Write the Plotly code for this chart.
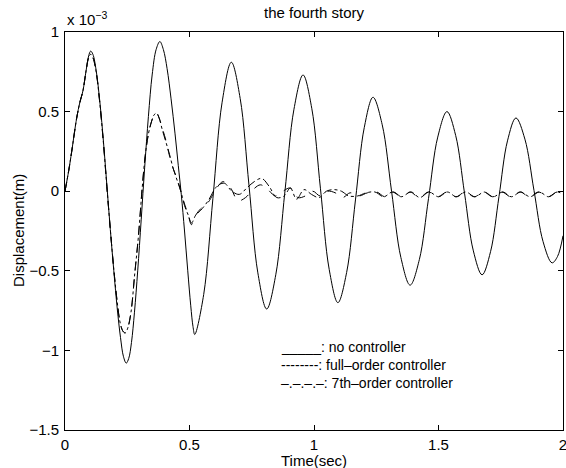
import plotly.graph_objects as go

# Values in units of 1e-3 m (axis shows "x 10^-3")
t_none = [0, 0.015, 0.027, 0.047, 0.060, 0.072, 0.085, 0.095, 0.103, 0.112, 0.125, 0.140,
          0.155, 0.168, 0.182, 0.196, 0.210, 0.223, 0.235, 0.246, 0.256, 0.267, 0.279, 0.292,
          0.306, 0.320, 0.335, 0.350, 0.366, 0.381, 0.395, 0.410, 0.426, 0.442, 0.455, 0.467,
          0.480, 0.493, 0.505, 0.514, 0.521,
          0.557, 0.594, 0.631, 0.668, 0.7035, 0.739, 0.7745, 0.810, 0.8465, 0.883, 0.9195, 0.956,
          0.991, 1.026, 1.061, 1.096, 1.131, 1.1665, 1.202, 1.237, 1.274, 1.3115, 1.349, 1.386,
          1.423, 1.460, 1.497, 1.534, 1.569, 1.6045, 1.640, 1.675, 1.709, 1.743, 1.777, 1.811,
          1.847, 1.8835, 1.920, 1.956, 1.978, 2.0]
v_none = [0, 0.13, 0.25, 0.46, 0.56, 0.63, 0.76, 0.85, 0.88, 0.86, 0.76, 0.56,
          0.30, 0.04, -0.24, -0.50, -0.74, -0.92, -1.04, -1.08, -1.05, -0.95, -0.76, -0.50,
          -0.18, 0.15, 0.47, 0.73, 0.89, 0.94, 0.89, 0.77, 0.58, 0.36, 0.16, -0.02,
          -0.25, -0.50, -0.72, -0.85, -0.90,
          -0.649, -0.045, 0.559, 0.81, 0.583, 0.035, -0.513, -0.74, -0.525, -0.005, 0.515, 0.73,
          0.521, 0.015, -0.491, -0.70, -0.511, -0.055, 0.401, 0.59, 0.417, 0.0, -0.417, -0.59,
          -0.43, -0.045, 0.34, 0.50, 0.35, -0.0125, -0.375, -0.525, -0.38, -0.0325, 0.316, 0.46,
          0.327, 0.005, -0.317, -0.45, -0.41, -0.28]

t_full = [0, 0.015, 0.027, 0.047, 0.060, 0.072, 0.085, 0.095, 0.103, 0.112, 0.125, 0.140,
          0.155, 0.168, 0.182, 0.196, 0.210, 0.222, 0.233, 0.242, 0.252, 0.265, 0.280, 0.295,
          0.310, 0.322, 0.335, 0.348, 0.358, 0.368, 0.378, 0.390, 0.405, 0.420, 0.435, 0.450,
          0.465, 0.480, 0.495, 0.508,
          0.525, 0.545, 0.575, 0.605, 0.635, 0.665, 0.695, 0.725, 0.755, 0.785, 0.815, 0.845,
          0.875, 0.905, 0.935, 0.965, 0.995, 1.025, 1.055, 1.085, 1.115, 1.145, 1.180, 1.215,
          1.252, 1.285, 1.319, 1.352, 1.386, 1.423, 1.460, 1.497, 1.534, 1.570, 1.607, 1.644,
          1.681, 1.718, 1.755, 1.790, 1.828, 1.865, 1.902, 1.940, 1.976, 2.0]
v_full = [0, 0.13, 0.25, 0.46, 0.56, 0.63, 0.76, 0.84, 0.86, 0.84, 0.75, 0.55,
          0.29, 0.03, -0.24, -0.49, -0.70, -0.83, -0.88, -0.89, -0.86, -0.76, -0.52, -0.28,
          0.02, 0.22, 0.36, 0.44, 0.48, 0.49, 0.46, 0.40, 0.32, 0.22, 0.14, 0.08,
          0.00, -0.08, -0.15, -0.21,
          -0.15, -0.11, -0.07, 0.01, 0.06, 0.02, -0.06, -0.04, 0.01, 0.04, 0.01, -0.03,
          0.00, 0.02, -0.04, -0.03, 0.00, -0.03, 0.00, -0.01, -0.04, -0.01, -0.03, -0.01,
          -0.005, -0.035, -0.005, -0.035, -0.005, -0.04, -0.005, -0.035, -0.005, -0.035, -0.005, -0.035,
          -0.005, -0.035, -0.005, -0.035, -0.005, -0.035, -0.005, -0.035, -0.005, -0.02]

t_7th = [0, 0.015, 0.027, 0.047, 0.060, 0.072, 0.085, 0.095, 0.103, 0.112, 0.125, 0.140,
         0.155, 0.168, 0.182, 0.196, 0.210, 0.222, 0.233, 0.242, 0.252, 0.265, 0.280, 0.295,
         0.310, 0.322, 0.335, 0.348, 0.358, 0.368, 0.378, 0.390, 0.405, 0.420, 0.435, 0.450,
         0.465, 0.480, 0.495, 0.508,
         0.525, 0.545, 0.575, 0.610, 0.640, 0.670, 0.700, 0.730, 0.760, 0.790, 0.820, 0.850,
         0.880, 0.905, 0.930, 0.960, 0.990, 1.020, 1.050, 1.080, 1.110, 1.140, 1.175, 1.210,
         1.245, 1.280, 1.315, 1.350, 1.390, 1.425, 1.462, 1.500, 1.536, 1.572, 1.610, 1.646,
         1.684, 1.720, 1.758, 1.793, 1.830, 1.868, 1.905, 1.942, 1.978, 2.0]
v_7th = [0, 0.13, 0.25, 0.46, 0.56, 0.63, 0.76, 0.84, 0.86, 0.84, 0.75, 0.55,
         0.29, 0.03, -0.24, -0.49, -0.70, -0.83, -0.88, -0.89, -0.86, -0.76, -0.52, -0.28,
         0.02, 0.22, 0.36, 0.44, 0.48, 0.49, 0.46, 0.39, 0.31, 0.23, 0.14, 0.07,
         0.00, -0.09, -0.15, -0.20,
         -0.15, -0.12, -0.06, 0.03, 0.05, 0.00, -0.02, 0.02, 0.06, 0.08, 0.03, -0.04,
         -0.03, 0.02, -0.05, 0.01, -0.02, -0.04, 0.00, 0.01, 0.00, -0.03, -0.03, -0.01,
         -0.005, -0.035, -0.005, -0.035, -0.005, -0.04, -0.005, -0.035, -0.005, -0.035, -0.005, -0.035,
         -0.005, -0.035, -0.005, -0.035, -0.005, -0.035, -0.005, -0.035, -0.005, -0.02]

x_ticks = [0, 0.5, 1, 1.5, 2]
x_labels = ["0", "0.5", "1", "1.5", "2"]
y_ticks = [-1.5, -1, -0.5, 0, 0.5, 1]
y_labels = ["\u22121.5", "\u22121", "\u22120.5", "0", "0.5", "1"]
legend_lines = ["_____: no controller",
                "--------: full\u2013order controller",
                "\u2013.\u2013.\u2013.\u2013: 7th\u2013order controller"]

FONT = "Liberation Sans, Arial, Helvetica, sans-serif"

fig = go.Figure()
fig.add_trace(go.Scatter(x=t_none, y=v_none, mode="lines", line=dict(color="black", width=1, shape="spline"),
                         name="no controller"))
fig.add_trace(go.Scatter(x=t_full, y=v_full, mode="lines",
                         line=dict(color="black", width=1, dash="dash", shape="spline"),
                         name="full-order controller"))
fig.add_trace(go.Scatter(x=t_7th, y=v_7th, mode="lines",
                         line=dict(color="black", width=1, dash="dashdot", shape="spline"),
                         name="7th-order controller"))

axis_common = dict(showline=True, linecolor="black", linewidth=1, mirror="ticks",
                   ticks="inside", ticklen=5, tickcolor="black", showgrid=False, zeroline=False,
                   automargin=False, ticklabeloverflow="allow",
                   tickfont=dict(family=FONT, size=15, color="black"))

fig.update_layout(
    width=566, height=468,
    margin=dict(l=65, r=3, t=32, b=38, autoexpand=False),
    paper_bgcolor="white", plot_bgcolor="white",
    showlegend=False,
    font=dict(family=FONT, size=14, color="black"),
    xaxis=dict(range=[0, 2], tickvals=x_ticks, ticktext=x_labels, ticklabelstandoff=1, **axis_common),
    yaxis=dict(range=[-1.5, 1], tickvals=y_ticks, ticktext=y_labels, ticklabelstandoff=2, **axis_common),
)

# title and axis labels
fig.add_annotation(text="the fourth story", xref="paper", yref="paper", x=0.5, y=1, yshift=20,
                   xanchor="center", yanchor="middle", showarrow=False,
                   font=dict(family=FONT, size=15, color="black"))
fig.add_annotation(text="Time(sec)", xref="paper", yref="paper", x=0.5, y=0, yshift=-30,
                   xanchor="center", yanchor="middle", showarrow=False,
                   font=dict(family=FONT, size=15, color="black"))
fig.add_annotation(text="Displacement(m)", xref="paper", yref="paper", x=0, y=0.5, xshift=-47,
                   xanchor="center", yanchor="middle", showarrow=False, textangle=-90,
                   font=dict(family=FONT, size=15, color="black"))
fig.add_annotation(text="x 10<sup>\u22123</sup>", xref="paper", yref="paper", x=0, y=1, yshift=2,
                   xanchor="left", yanchor="bottom", showarrow=False,
                   font=dict(family=FONT, size=15, color="black"))

for i, txt in enumerate(legend_lines):
    fig.add_annotation(text=txt, xref="x", yref="y", x=0.86, y=-0.98 - i * 0.113,
                       xanchor="left", yanchor="middle", showarrow=False,
                       font=dict(family=FONT, size=14, color="black"))

fig.write_html("out.html", config={"displayModeBar": False},
               post_script="document.body.style.margin='0';document.body.style.overflow='hidden';")
